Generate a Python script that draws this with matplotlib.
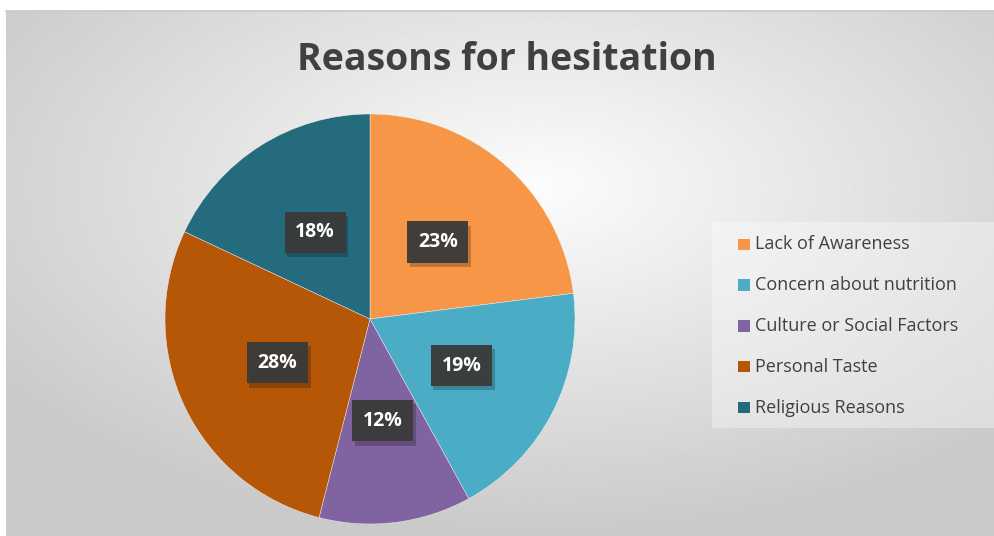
import numpy as np
import matplotlib.pyplot as plt
import matplotlib.patheffects as pe
from matplotlib.legend_handler import HandlerPatch
from matplotlib.patches import Rectangle

labels = ["Lack of Awareness", "Concern about nutrition", "Culture or Social Factors",
          "Personal Taste", "Religious Reasons"]
shares = [23, 19, 12, 28, 18]
colors = ["#F79646", "#4BACC6", "#8064A2", "#B65708", "#246B7D"]

W, H = 995, 536
fig = plt.figure(figsize=(W / 100, H / 100), dpi=100)
fig.patch.set_facecolor("white")

# background panel with soft radial gradient (starts under a thin white margin)
bg = fig.add_axes([6 / W, 0, (W - 6) / W, (H - 11) / H])
yy, xx = np.mgrid[0:300, 0:560]
cx, cy = 300, 100
d = np.sqrt(((xx - cx) / 560) ** 2 + ((yy - cy) / 300) ** 2)
grad = np.clip(0.99 - 0.30 * d, 0.79, 1.0)
bg.imshow(grad, cmap="gray", vmin=0, vmax=1, aspect="auto", interpolation="bilinear")
bg.axis("off")
fig.add_artist(plt.Line2D([6 / W, 1], [(H - 11) / H] * 2, color="#C8C8C8", lw=1.2))

# pie: centre ~ (370, 319) px, radius ~ 205 px
R = 205
ax = fig.add_axes([(370 - R) / W, (H - 319 - R) / H, 2 * R / W, 2 * R / H])
wedges, _, pct = ax.pie(shares, colors=colors, startangle=90, counterclock=False,
                        autopct="%d%%", pctdistance=0.5,
                        wedgeprops=dict(edgecolor="#F4F4F4", linewidth=0.3))
ax.set_xlim(-1, 1)
ax.set_ylim(-1, 1)
ax.set_aspect("equal")

for t in pct:
    t.set_color("white")
    t.set_fontsize(14)
    t.set_fontweight("bold")
    t.set_fontfamily("Open Sans")
    t.set_bbox(dict(boxstyle="square,pad=0.55", facecolor="#3A3A3A", edgecolor="none",
                    linewidth=0, alpha=0.95))
    t.get_bbox_patch().set_path_effects(
        [pe.SimplePatchShadow(offset=(2, -3), shadow_rgbFace="black", alpha=0.22), pe.Normal()])

fig.text(507 / W, 1 - 60 / H, "Reasons for hesitation", ha="center", va="center",
         fontsize=27, fontweight="bold", color="#404040", family="Open Sans")

# legend
fig.patches.append(Rectangle((712 / W, (H - 428) / H), (W - 712) / W, 206 / H,
                             transform=fig.transFigure, facecolor="white", alpha=0.35,
                             edgecolor="none"))


class SquareHandler(HandlerPatch):
    def create_artists(self, legend, orig, xd, yd, width, height, fontsize, trans):
        s = 8
        p = Rectangle((xd + width - s, yd + height / 2 - s / 2 - 1), s, s,
                      facecolor=orig.get_facecolor(), edgecolor="none", transform=trans)
        return [p]


leg = fig.legend(wedges, labels, loc="upper left", bbox_to_anchor=(727 / W, 1 - 226 / H),
                 frameon=False, labelspacing=1.27, handlelength=0.75,
                 handletextpad=0.3, borderpad=0,
                 handler_map={w: SquareHandler() for w in wedges},
                 prop=dict(family="Open Sans", size=13))
for t in leg.get_texts():
    t.set_color("#404040")

fig.savefig("out.png", dpi=100)
